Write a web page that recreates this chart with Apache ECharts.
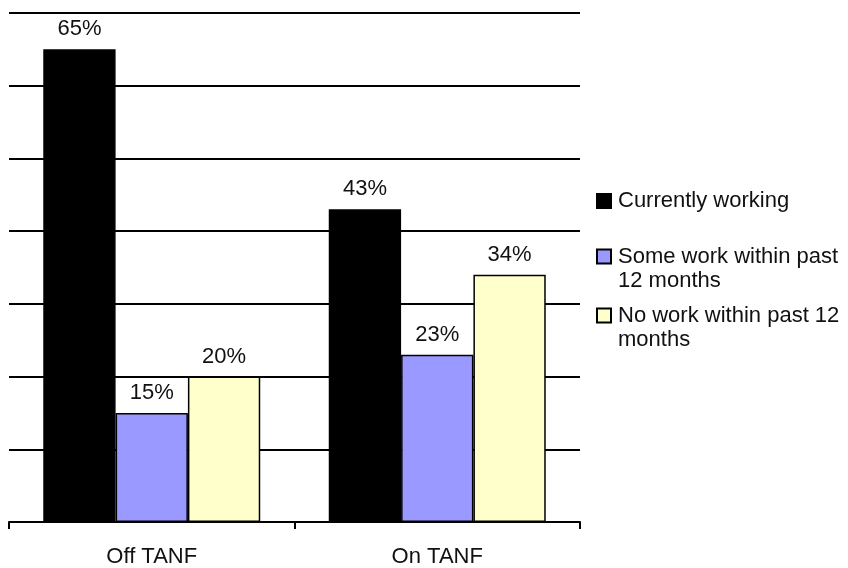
<!DOCTYPE html>
<html>
<head>
<meta charset="utf-8">
<script src="https://cdn.jsdelivr.net/npm/echarts@6/dist/echarts.min.js"></script>
<style>
  html, body { margin: 0; padding: 0; background: #fff; }
  #chart { width: 848px; height: 568px; }
</style>
</head>
<body>
<div id="chart"></div>
<script>
// Employment status by TANF receipt (percent)
const categories = ['Off TANF', 'On TANF'];
const seriesNames = [
  'Currently working',
  'Some work within past 12 months',
  'No work within past 12 months'
];
const legendLabels = [
  'Currently working',
  'Some work within past\n12 months',
  'No work within past 12\nmonths'
];
const currentlyWorking = [65, 43];
const someWorkPast12 = [15, 23];
const noWorkPast12 = [20, 34];
const seriesValues = [currentlyWorking, someWorkPast12, noWorkPast12];
const seriesColors = ['#000000', '#9999ff', '#ffffcc'];

const FONT = '"Liberation Sans", Arial, sans-serif';
const LINE = 24;

const chart = echarts.init(document.getElementById('chart'), null, { renderer: 'canvas' });

// One legend block per entry. Wrapped entries get blank spacer lines on top,
// so the text block stays centred on the icon while the first line sits beside it.
const legendCenters = [201, 256.5, 315.5];
const legends = seriesNames.map((name, i) => {
  const lines = legendLabels[i].split('\n');
  const spacers = lines.length - 1;
  const text = '{s| }\n'.repeat(spacers) +
    lines.map(l => '{t|' + l + '}').join('\n');
  const blockH = (lines.length + spacers) * LINE;
  return {
    orient: 'vertical',
    left: 596,
    top: legendCenters[i] - blockH / 2,
    padding: 0,
    itemWidth: 14,
    itemHeight: 14,
    icon: 'rect',
    selectedMode: false,
    data: [name],
    formatter: () => text,
    textStyle: {
      fontFamily: FONT,
      fontSize: 22,
      lineHeight: LINE,
      color: '#111',
      rich: {
        s: { fontSize: 22, lineHeight: LINE },
        t: { fontFamily: FONT, fontSize: 22, lineHeight: LINE, color: '#111', padding: [0, 0, 0, 2] }
      }
    }
  };
});

chart.setOption({
  animation: false,
  backgroundColor: '#ffffff',
  textStyle: { fontFamily: FONT },
  legend: legends,
  grid: { left: 9, right: 268, top: 13, bottom: 46, containLabel: false },
  xAxis: {
    type: 'category',
    data: categories,
    axisLine: { show: true, lineStyle: { color: '#000', width: 2 } },
    axisTick: { show: true, length: 7, lineStyle: { color: '#000', width: 2 } },
    axisLabel: { fontFamily: FONT, fontSize: 22, color: '#111', margin: 24 }
  },
  yAxis: {
    type: 'value',
    min: 0,
    max: 70,
    interval: 10,
    axisLine: { show: false },
    axisTick: { show: false },
    axisLabel: { show: false },
    splitLine: { show: true, lineStyle: { color: '#000', width: 2 } }
  },
  series: seriesNames.map((name, i) => ({
    name: name,
    type: 'bar',
    data: seriesValues[i],
    barGap: '0%',
    barCategoryGap: '24%',
    itemStyle: { color: seriesColors[i], borderColor: '#000', borderWidth: 1.5 },
    label: {
      show: true,
      position: 'top',
      distance: 9,
      formatter: p => p.value + '%',
      fontFamily: FONT,
      fontSize: 22,
      color: '#111'
    }
  }))
});
</script>
</body>
</html>
